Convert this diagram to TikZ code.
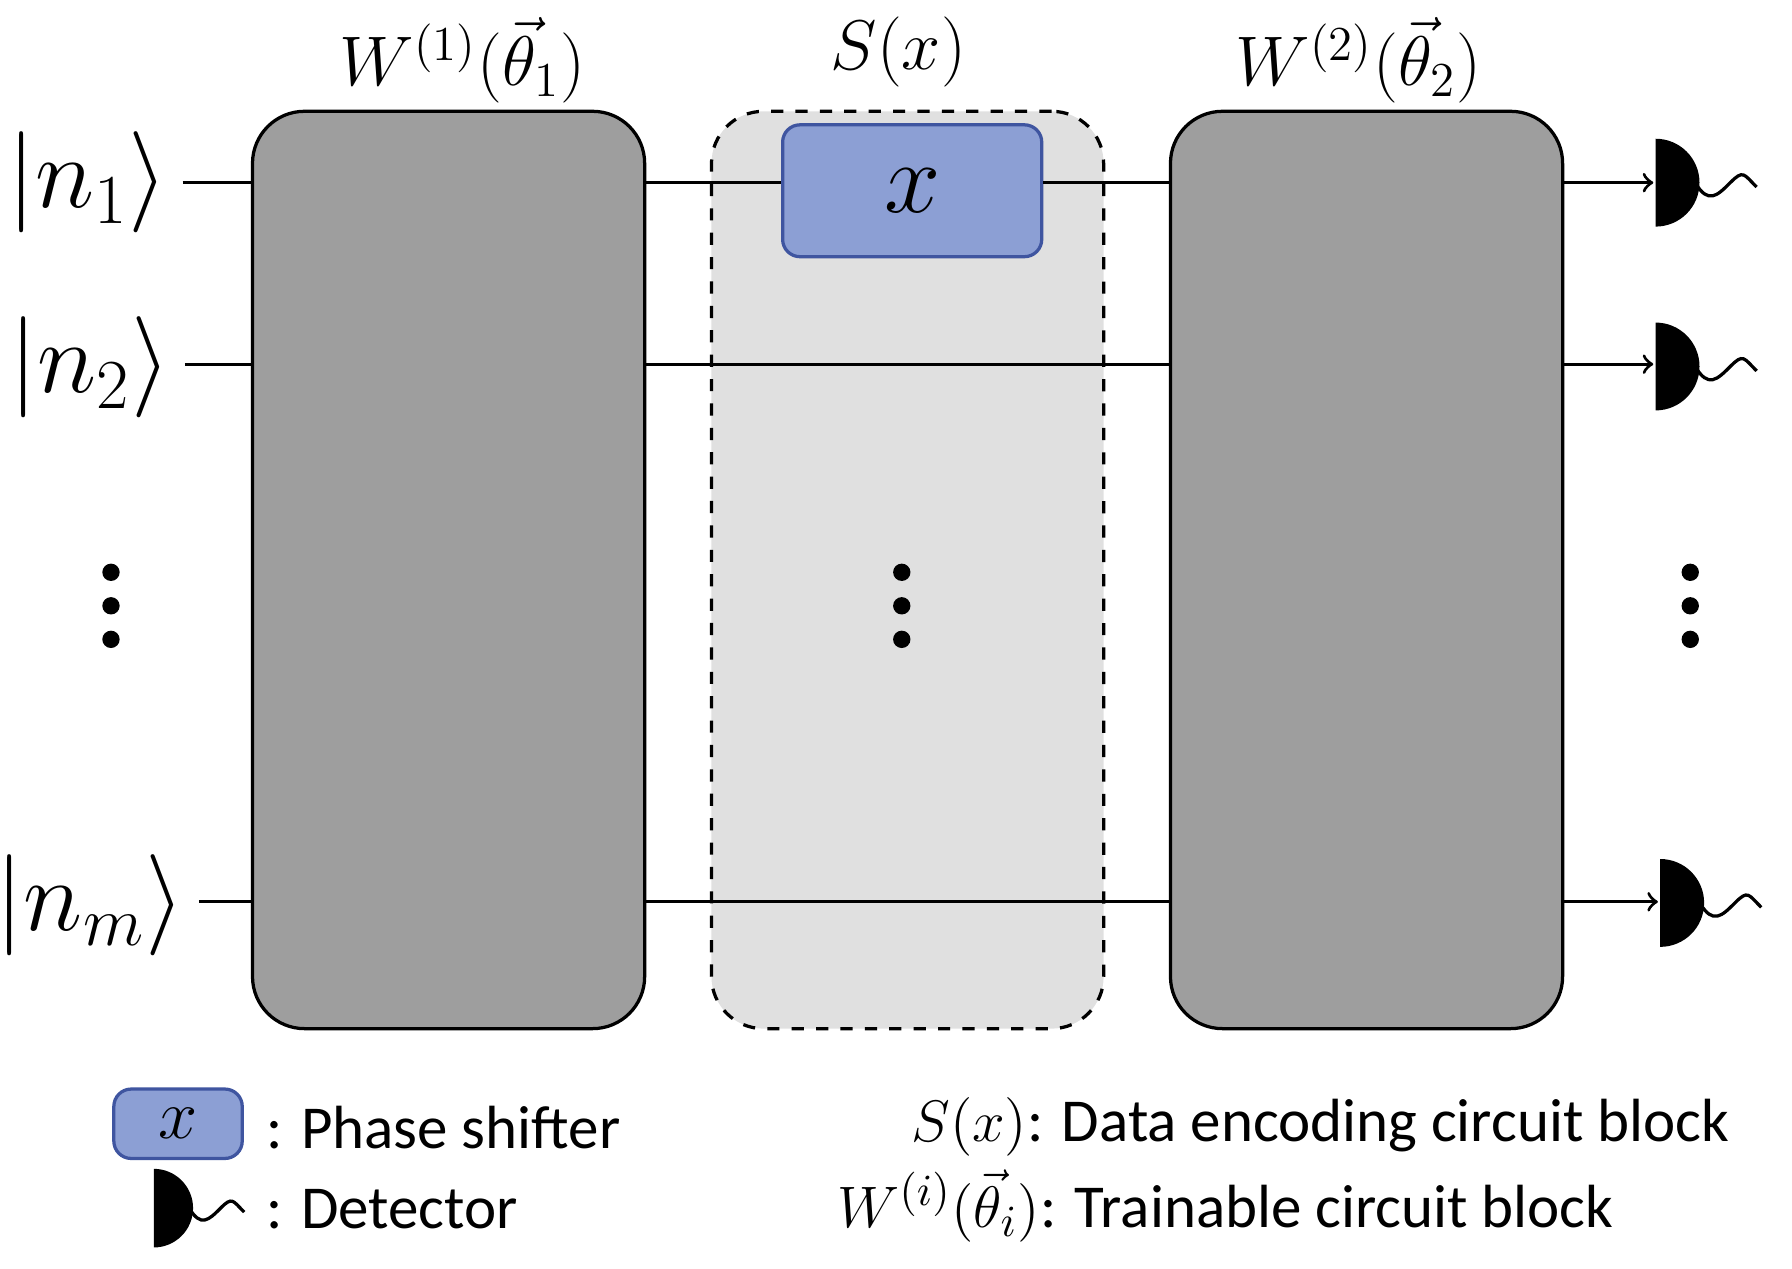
\documentclass[tikz,border=0pt]{standalone}
\usepackage{fontspec}
\setmainfont{Carlito}
\usetikzlibrary{positioning,calc}
\definecolor{psfill}{HTML}{8C9FD4}
\definecolor{psdraw}{HTML}{3F55A0}

\begin{document}
\begin{tikzpicture}[x=0.01cm, y=-0.01cm]
  \tikzstyle{block}=[draw=black, fill=black!38, thick, rounded corners=0.45cm, minimum width=3.39cm, minimum height=7.93cm]
  \tikzstyle{encode}=[draw=black, fill=black!12, thick, dashed, rounded corners=0.45cm, minimum width=3.39cm, minimum height=7.93cm]
  \tikzstyle{shifter}=[draw=psdraw, fill=psfill, thick, rounded corners=0.15cm, inner sep=0pt]
  \tikzstyle{ket}=[font=\fontsize{23}{26}\selectfont]
  \tikzstyle{label}=[font=\fontsize{17}{20}\selectfont]
  \tikzstyle{legend}=[font=\fontsize{15}{18}\selectfont]
  \tikzstyle{wire}=[thick]
  \tikzstyle{arrow}=[->, thick, >=to]
  \tikzstyle{vdots}=[fill=black, circle, inner sep=0pt, minimum size=0.15cm]
  \newcommand{\detect}[2]{% position, size
    \fill[black] ($(#1)+(0,#2)$) arc (90:-90:#2);
    \draw[thick] ($(#1)+(0.9*#2,0)$) .. controls +(0.3*#2,0.5*#2) and +(-0.3*#2,0.3*#2) .. ++(0.8*#2,0)
      .. controls +(0.3*#2,-0.3*#2) and +(-0.3*#2,-0.3*#2) .. ++(0.6*#2,0.1*#2);
  }

  \useasboundingbox (0,0) rectangle (1550,1097);

  % circuit blocks
  \node[block] (w1) at (388,493) {};
  \node[encode] (sx) at (785,493) {};
  \node[block] (w2) at (1182,493) {};
  \node[shifter, minimum width=2.24cm, minimum height=1.14cm] (ps) at (789,165) {\fontsize{26}{28}\selectfont$x$};

  \node[label] (lw1) at (400,52) {$W^{(1)}(\vec{\theta}_1)$};
  \node[label] (lsx) at (777,45) {$S(x)$};
  \node[label] (lw2) at (1175,52) {$W^{(2)}(\vec{\theta}_2)$};

  % input states
  \node[ket] (k1) at (76,158) {$|n_1\rangle$};
  \node[ket] (k2) at (78,318) {$|n_2\rangle$};
  \node[ket] (km) at (78,783) {$|n_m\rangle$};

  \coordinate (d1) at (1430,158);
  \coordinate (d2) at (1430,315);
  \coordinate (dm) at (1434,780);

  % wires
  \draw[wire] (k1.east |- 0,158) -- (w1.west |- 0,158);
  \draw[wire] (w1.east |- 0,158) -- (ps.west |- 0,158);
  \draw[wire] (ps.east |- 0,158) -- (w2.west |- 0,158);
  \draw[arrow] (w2.east |- 0,158) -- (d1);
  \draw[wire] (k2.east |- 0,315) -- (w1.west |- 0,315);
  \draw[wire] (w1.east |- 0,315) -- (w2.west |- 0,315);
  \draw[arrow] (w2.east |- 0,315) -- (d2);
  \draw[wire] (km.east |- 0,780) -- (w1.west |- 0,780);
  \draw[wire] (w1.east |- 0,780) -- (w2.west |- 0,780);
  \draw[arrow] (w2.east |- 0,780) -- (dm);

  % detectors
  \detect{1432,158}{38}
  \detect{1432,317}{38}
  \detect{1436,781}{38}

  % dots
  \foreach \cx in {96,780,1462}
    \foreach \cy in {495,524,553}
      \node[vdots] at (\cx,\cy) {};

  % legend
  \node[shifter, minimum width=1.11cm, minimum height=0.6cm] (lps) at (154,972) {\fontsize{17}{19}\selectfont$x$};
  \node[legend, anchor=west] (tps) at (218,975) {: Phase shifter};
  \detect{133,1045}{34}
  \node[legend, anchor=west] (tdet) at (218,1046) {: Detector};
  \node[legend, anchor=east] (tsx) at (1508,975) {$S(x)$: Data encoding circuit block};
  \node[legend, anchor=west] (tw) at (712,1043) {$W^{(i)}\bigl(\vec{\theta}_i\bigr)$: Trainable circuit block};
\end{tikzpicture}
\end{document}
